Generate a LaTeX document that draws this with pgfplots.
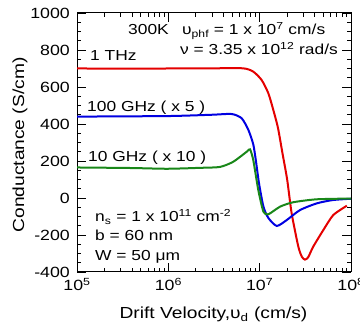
\documentclass[border=0pt]{standalone}
\usepackage{fontspec}
\setmainfont{Liberation Sans}[FakeStretch=1.2]
\usepackage{pgfplots}
\pgfplotsset{compat=1.18}
\definecolor{cred}{RGB}{228,0,0}
\definecolor{cblue}{RGB}{0,0,225}
\definecolor{cgreen}{RGB}{25,135,25}
\begin{document}
\begin{tikzpicture}[font=\fontsize{14.5}{17}\selectfont]
\begin{axis}[
  at={(0pt,0pt)}, anchor=south west,
  scale only axis, width=274pt, height=259pt,
  xmode=log, xmin=1e5, xmax=1e8, ymin=-400, ymax=1000,
  xtick={1e5,1e6,1e7,1e8},
  xticklabels={10\textsuperscript{5},10\textsuperscript{6},10\textsuperscript{7},10\textsuperscript{8}},
  minor xtick={2e5,3e5,4e5,5e5,6e5,7e5,8e5,9e5,2e6,3e6,4e6,5e6,6e6,7e6,8e6,9e6,2e7,3e7,4e7,5e7,6e7,7e7,8e7,9e7},
  ytick={-400,-200,0,200,400,600,800,1000},
  minor y tick num=3,
  tick align=inside,
  major tick length=9pt, minor tick length=4pt,
  every tick/.style={black, line width=0.8pt},
  axis line style={line width=1pt},
  tick label style={font=\fontsize{14.8}{17}\selectfont},
  /pgf/number format/assume math mode=true,
  /pgf/number format/1000 sep={},
  yticklabel style={inner sep=0pt, xshift=-7pt},
  xticklabel style={inner sep=0pt, yshift=-6pt},
  every axis plot/.append style={line width=2pt, smooth, tension=0.4},
]
\addplot[cred] coordinates {
(1e5,700) (1e6,700) (3e6,701) (6.58e6,701) (8.51e6,683) (1.05e7,638) (1.245e7,566)
(1.41e7,476) (1.585e7,380) (1.78e7,240) (2.0e7,100) (2.24e7,-83) (2.65e7,-263)
(2.9e7,-318) (3.13e7,-333) (3.4e7,-320) (3.86e7,-263) (4.98e7,-173) (6.4e7,-92) (9.0e7,-42)
};
\addplot[cblue] coordinates {
(1e5,440) (1e6,443) (3e6,450) (4.94e6,454) (6.35e6,431) (7.52e6,368) (8.51e6,290)
(9.1e6,200) (9.84e6,79) (1.1e7,-47) (1.245e7,-108) (1.54e7,-151) (1.98e7,-119)
(2.77e7,-65) (4.22e7,-29) (6.35e7,-11) (1e8,-4)
};
\addplot[cgreen] coordinates {
(1e5,165) (4e5,162) (9.7e5,158) (2.22e6,163) (3.68e6,168) (5.14e6,196) (7.21e6,250)
(7.83e6,263) (8.51e6,205) (9.66e6,43) (1.1e7,-74) (1.245e7,-88) (1.67e7,-47)
(2.33e7,-23) (4.22e7,-7) (1e8,-3)
};
\end{axis}
\path[every node/.style={inner sep=0pt}]
  (51pt,237pt) node[anchor=base west] {300K}
  (105pt,237pt) node[anchor=base west] {υ\textsubscript{phf} = 1 x 10\textsuperscript{7} cm/s}
  (261pt,217pt) node[anchor=base east] {ν = 3.35 x 10\textsuperscript{12} rad/s}
  (13pt,211pt) node[anchor=base west] {1 THz}
  (10pt,160pt) node[anchor=base west] {100 GHz ( x 5 )}
  (11pt,110pt) node[anchor=base west] {10 GHz ( x 10 )}
  (18pt,50pt) node[anchor=base west] {n\textsubscript{s} = 1 x 10\textsuperscript{11} cm\textsuperscript{-2}}
  (18pt,31pt) node[anchor=base west] {b = 60 nm}
  (18pt,11pt) node[anchor=base west] {W = 50 μm}
  (-57pt,127pt) node[rotate=90, font=\fontsize{16}{18}\selectfont] {Conductance (S/cm)}
  (136.5pt,-47pt) node[anchor=base, font=\fontsize{16}{18}\selectfont] {Drift Velocity,υ\textsubscript{d} (cm/s)};
\pgfresetboundingbox
\path[use as bounding box] (-77pt,-60pt) rectangle (283pt,272pt);
\end{tikzpicture}
\end{document}
